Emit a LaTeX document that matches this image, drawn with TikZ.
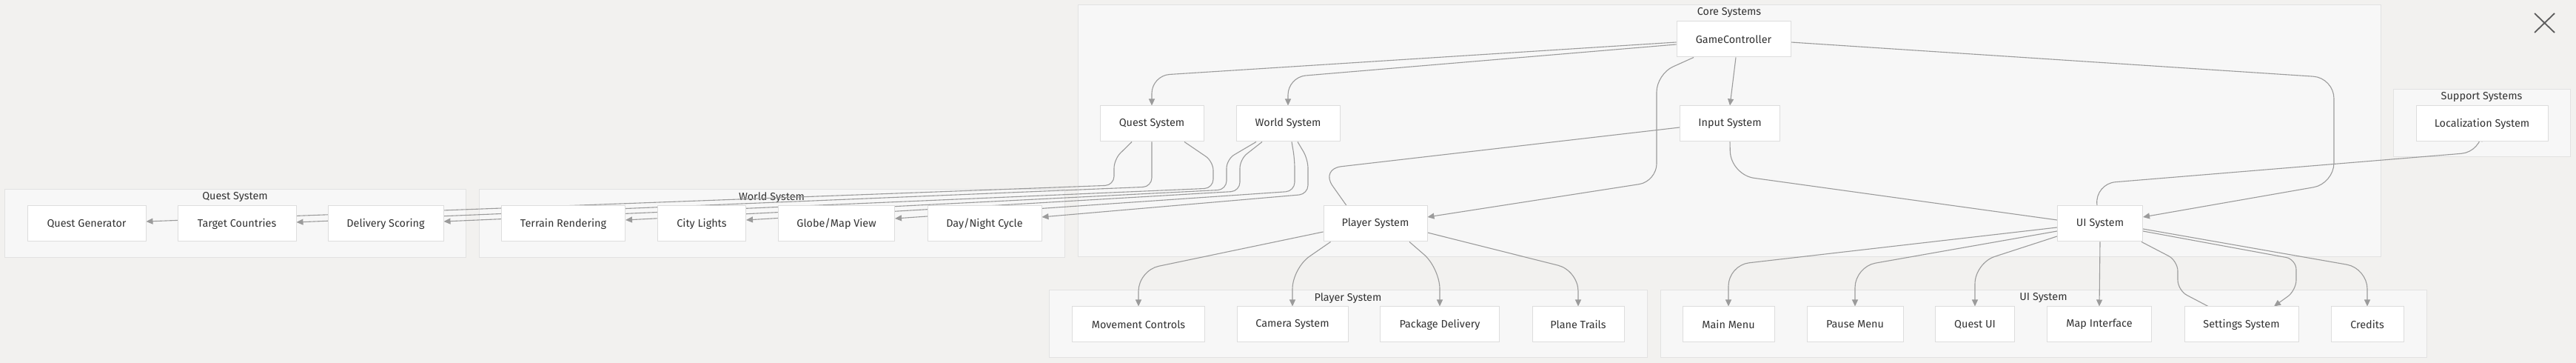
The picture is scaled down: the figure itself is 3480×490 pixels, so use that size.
\documentclass[tikz,border=0pt]{standalone}
\usepackage{fontspec}
\setmainfont{Fira Sans}
\usepackage{tikz}
\usetikzlibrary{arrows.meta,positioning,calc}
\usepackage{xcolor}

\definecolor{canvas}{HTML}{F2F1EF}
\definecolor{groupfill}{HTML}{F7F7F7}
\definecolor{groupline}{HTML}{E2E2E2}
\definecolor{boxline}{HTML}{DDDDDD}
\definecolor{wirecol}{HTML}{9B9B9B}
\definecolor{labelcol}{HTML}{333333}

\pgfdeclarelayer{bg}
\pgfdeclarelayer{wires}
\pgfsetlayers{bg,wires,main}

\newcommand{\boxfont}{\fontsize{7.2pt}{8.6pt}\selectfont}

\begin{document}
\begin{tikzpicture}[x=0.5pt,y=-0.5pt,
	sysbox/.style={draw=boxline,fill=white,line width=0.5pt,minimum height=24pt,
		minimum width=#1,inner sep=0pt,font=\boxfont,text=labelcol},
	group/.style 2 args={draw=groupline,fill=groupfill,line width=0.5pt,
		minimum width=#1,minimum height=#2,inner sep=0pt},
	grouptitle/.style={anchor=north,inner sep=2pt,font=\boxfont,text=labelcol},
	wire/.style={draw=wirecol,line width=0.55pt,-{Triangle[length=4.5pt,width=4pt]}},
	link/.style={draw=wirecol,line width=0.55pt}]

	\useasboundingbox (0,0) rectangle (3480,490);

	% groups
	\begin{pgfonlayer}{bg}
		\fill[canvas] (0,0) rectangle (3480,490);
		\node[group={880pt}{170pt}] (coreG) at (2336,177) {};
		\node[grouptitle] at (coreG.north) {Core Systems};
		\node[group={119.5pt}{45.5pt}] (supportG) at (3352.5,166.5) {};
		\node[grouptitle] at (supportG.north) {Support Systems};
		\node[group={311.5pt}{46pt}] (questG) at (317.5,302) {};
		\node[grouptitle] at (questG.north) {Quest System};
		\node[group={395.5pt}{46pt}] (worldG) at (1042.5,302) {};
		\node[grouptitle] at (worldG.north) {World System};
		\node[group={404pt}{45.5pt}] (playerG) at (1821,437.5) {};
		\node[grouptitle] at (playerG.north) {Player System};
		\node[group={517.5pt}{45.5pt}] (uiG) at (2760.5,437.5) {};
		\node[grouptitle] at (uiG.north) {UI System};
	\end{pgfonlayer}

	% core systems
	\node[sysbox=77pt] (gc) at (2342,53)
	{GameController};
	\node[sysbox=70pt] (qsys) at (1556,167)
	{Quest System};
	\node[sysbox=70pt] (wsys) at (1740,167)
	{World System};
	\node[sysbox=67.5pt] (isys) at (2337,167)
	{Input System};
	\node[sysbox=70pt] (psys) at (1858,302)
	{Player System};
	\node[sysbox=57.5pt] (uisys) at (2837,302)
	{UI System};

	% support
	\node[sysbox=89pt] (loc) at (3353,167)
	{Localization System};

	% quest
	\node[sysbox=80pt] (qgen) at (117,302)
	{Quest Generator};
	\node[sysbox=80pt] (tcount) at (320,302)
	{Target Countries};
	\node[sysbox=78pt] (dscore) at (521,302)
	{Delivery Scoring};

	% world
	\node[sysbox=83.5pt] (terrain) at (761,302)
	{Terrain Rendering};
	\node[sysbox=59.5pt] (clights) at (948,302)
	{City Lights};
	\node[sysbox=78.5pt] (globe) at (1130,302)
	{Globe/Map View};
	\node[sysbox=77pt] (daynight) at (1330,302)
	{Day/Night Cycle};

	% player
	\node[sysbox=89.5pt] (movec) at (1538,438)
	{Movement Controls};
	\node[sysbox=75pt] (camsys) at (1746,438)
	{Camera System};
	\node[sysbox=80.5pt] (pkgdel) at (1945,438)
	{Package Delivery};
	\node[sysbox=62pt] (trails) at (2132,438)
	{Plane Trails};

	% ui
	\node[sysbox=62pt] (mainm) at (2335,438)
	{Main Menu};
	\node[sysbox=65pt] (pausem) at (2506,438)
	{Pause Menu};
	\node[sysbox=53.5pt] (questui) at (2668,438)
	{Quest UI};
	\node[sysbox=70.5pt] (mapint) at (2836,438)
	{Map Interface};
	\node[sysbox=77pt] (settings) at (3028,438)
	{Settings System};
	\node[sysbox=49pt] (credits) at (3198,438)
	{Credits};

	\begin{pgfonlayer}{wires}
		% from the game controller
		\draw[wire,rounded corners=12pt] ($(gc.west)+(0,4)$) -- (qsys.north |- 0,102) -- (qsys.north);
		\draw[wire,rounded corners=12pt] ($(gc.west)+(0,7)$) -- (wsys.north |- 0,104) -- (wsys.north);
		\draw[wire] ($(gc.south)+(3,0)$) -- (isys.north);
		\draw[wire,rounded corners=12pt] ($(gc.south)+(-54,0)$) -- (2238,100) -- (2238,245) -- ($(psys.east)+(0,-9)$);
		\draw[wire,rounded corners=14pt] ($(gc.east)+(0,4)$) -- (3153,105) -- (3153,248) -- ($(uisys.east)+(0,-9)$);

		\draw[link,rounded corners=14pt] ($(isys.west)+(0,5)$) -- (1784,228) -- ($(psys.north)+(-39,0)$);
		\draw[link,rounded corners=16pt] (isys.south) -- (2338,236) -- ($(uisys.west)+(0,-5)$);
		\draw[link,rounded corners=14pt] (loc.south) -- (3353,205) -- (2830,248) -- ($(uisys.north)+(-4,0)$);

		% quest and world
		\draw[wire,rounded corners=6pt] ($(qsys.south)+(-27,0)$) -- (1505,215) -- (1505,250) -- ($(qgen.east)+(0,-3)$);
		\draw[wire,rounded corners=6pt] (qsys.south) -- (1556,252) -- ($(tcount.east)+(0,-2)$);
		\draw[wire,rounded corners=6pt] ($(qsys.south)+(44,0)$) -- (1639,218) -- (1639,254) -- ($(dscore.east)+(0,-3)$);
		\draw[wire,rounded corners=6pt] ($(wsys.south)+(-43,0)$) -- (1657,215) -- (1657,256) -- ($(terrain.east)+(0,-5)$);
		\draw[wire,rounded corners=6pt] ($(wsys.south)+(-35,0)$) -- (1675,215) -- (1675,258) -- ($(clights.east)+(0,-5)$);
		\draw[wire,rounded corners=6pt] ($(wsys.south)+(5,0)$) -- (1749,215) -- (1749,258) -- ($(globe.east)+(0,-7)$);
		\draw[wire,rounded corners=6pt] ($(wsys.south)+(13,0)$) -- (1767,215) -- (1767,262) -- ($(daynight.east)+(0,-9)$);

		% player
		\draw[wire,rounded corners=14pt] ($(psys.west)+(0,11)$) -- (movec.north |- 0,365) -- (movec.north);
		\draw[wire,rounded corners=14pt] ($(psys.south west)+(10,0)$) -- (camsys.north |- 0,362) -- (camsys.north);
		\draw[wire,rounded corners=14pt] ($(psys.south)+(46,0)$) -- (pkgdel.north |- 0,362) -- (pkgdel.north);
		\draw[wire,rounded corners=14pt] ($(psys.east)+(0,12)$) -- (trails.north |- 0,365) -- (trails.north);

		% ui
		\draw[wire,rounded corners=14pt] ($(uisys.west)+(0,5)$) -- (mainm.north |- 0,358) -- (mainm.north);
		\draw[wire,rounded corners=14pt] ($(uisys.west)+(0,10)$) -- (pausem.north |- 0,360) -- (pausem.north);
		\draw[wire,rounded corners=14pt] ($(uisys.west)+(0,17)$) -- (questui.north |- 0,355) -- (questui.north);
		\draw[wire] (uisys.south) -- (mapint.north);
		\draw[wire,rounded corners=7pt] ($(uisys.east)+(0,10)$) -- (3102,350) -- (3102,392) -- ($(settings.north)+(44,0)$);
		\draw[link,rounded corners=7pt] ($(uisys.south east)+(-2,0)$) -- (2942,352) -- (2942,392) -- ($(settings.north)+(-45,0)$);
		\draw[wire,rounded corners=14pt] ($(uisys.east)+(0,7)$) -- (credits.north |- 0,362) -- (credits.north);
	\end{pgfonlayer}

	% close mark
	\draw[labelcol!80,line width=0.9pt] (3424,18) -- (3451,44) (3451,18) -- (3424,44);

\end{tikzpicture}
\end{document}
